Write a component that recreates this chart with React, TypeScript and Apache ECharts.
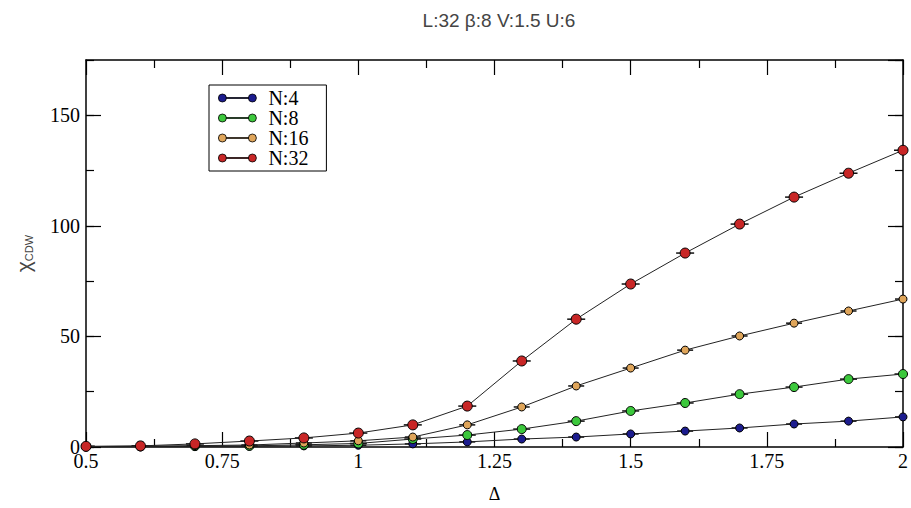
import React, { useEffect, useRef } from "react";
import * as echarts from "echarts";

// Δ values at which the susceptibility was measured
const DELTA = [0.5, 0.6, 0.7, 0.8, 0.9, 1.0, 1.1, 1.2, 1.3, 1.4, 1.5, 1.6, 1.7, 1.8, 1.9, 2.0];

// χ_CDW for each number of time slices N
const CHI_N4 = [0.1, 0.15, 0.25, 0.35, 0.5, 0.8, 1.4, 2.3, 3.6, 4.5, 5.9, 7.2, 8.6, 10.4, 11.7, 13.6];
const CHI_N8 = [0.15, 0.25, 0.4, 0.5, 1.0, 1.6, 3.6, 5.4, 8.1, 11.7, 16.3, 19.9, 23.9, 27.1, 30.7, 33.0];
const CHI_N16 = [0.2, 0.35, 0.6, 0.9, 1.8, 2.8, 4.5, 10.0, 18.1, 27.6, 35.7, 43.8, 50.2, 56.0, 61.5, 66.9];
const CHI_N32 = [0.3, 0.5, 1.4, 2.7, 4.1, 6.3, 10.0, 18.5, 38.9, 57.8, 73.7, 87.7, 100.8, 113.0, 123.8, 134.2];

const SERIES_NAMES = ["N:4", "N:8", "N:16", "N:32"];
const SERIES_VALUES = [CHI_N4, CHI_N8, CHI_N16, CHI_N32];
const SERIES_COLORS = ["#1c1c8e", "#3cc83c", "#dfa55a", "#c82626"];
const SYMBOL_SIZES = [8, 9, 8, 10];

const X_TICKS = { min: 0.5, max: 2, interval: 0.25 };
const Y_TICKS = { min: 0, max: 175, major: 50, minor: 25 };

const TITLE = "L:32 β:8 V:1.5 U:6";

const SERIF = "'Liberation Serif', 'Times New Roman', serif";
const SANS = "'Liberation Sans', Arial, sans-serif";

// legend icon: two circles joined by a thin bar
const LEGEND_ICON =
  "path://M0,4a4,4 0 1,0 8,0a4,4 0 1,0 -8,0Z M30,4a4,4 0 1,0 8,0a4,4 0 1,0 -8,0Z M8,3.6H30V4.4H8Z";

export default function App() {
  const ref = useRef<HTMLDivElement>(null);

  useEffect(() => {
    if (!ref.current) return;
    const chart = echarts.init(ref.current, undefined, { renderer: "svg" });

    const axisLine = { show: true, onZero: false, lineStyle: { color: "#000", width: 1.5 } };
    const tickStyle = { color: "#000", width: 1.2 };
    const tickFont = { fontFamily: SERIF, fontSize: 20, color: "#000" };

    const xBase = {
      type: "value" as const,
      min: X_TICKS.min,
      max: X_TICKS.max,
      interval: X_TICKS.interval,
      axisLine,
      axisTick: { show: true, inside: true, length: 15, lineStyle: tickStyle },
      minorTick: { show: true, splitNumber: 2, length: 8, lineStyle: tickStyle },
      splitLine: { show: false },
      minorSplitLine: { show: false },
    };

    const yMajor = (position: "left" | "right", labels: boolean) => ({
      type: "value" as const,
      position,
      min: Y_TICKS.min,
      max: Y_TICKS.max,
      interval: Y_TICKS.major,
      axisLine,
      axisTick: { show: true, inside: true, length: 15, lineStyle: tickStyle },
      splitLine: { show: false },
      axisLabel: labels
        ? { show: true, ...tickFont, margin: 6, showMaxLabel: false }
        : { show: false },
    });

    const yMinor = (position: "left" | "right") => ({
      type: "value" as const,
      position,
      min: Y_TICKS.min,
      max: Y_TICKS.max,
      interval: Y_TICKS.minor,
      axisLine: { show: false },
      axisTick: { show: true, inside: true, length: 8, lineStyle: tickStyle },
      splitLine: { show: false },
      axisLabel: { show: false },
    });

    const lineSeries = SERIES_NAMES.map((name, i) => ({
      name,
      type: "line" as const,
      xAxisIndex: 0,
      yAxisIndex: 0,
      data: DELTA.map((d, j) => [d, SERIES_VALUES[i][j]]),
      symbol: "circle",
      symbolSize: SYMBOL_SIZES[i],
      showSymbol: true,
      lineStyle: { color: "#222", width: 1 },
      itemStyle: { color: SERIES_COLORS[i], borderColor: "#000", borderWidth: 1 },
      emphasis: { disabled: true },
      z: 3,
    }));

    // short horizontal caps drawn through every measured point
    const capSeries = SERIES_NAMES.map((name, i) => ({
      name: name + " caps",
      type: "custom" as const,
      xAxisIndex: 0,
      yAxisIndex: 0,
      data: DELTA.map((d, j) => [d, SERIES_VALUES[i][j]]),
      encode: { x: 0, y: 1 },
      clip: true,
      z: 2,
      silent: true,
      renderItem: (_params: any, api: any) => {
        const p = api.coord([api.value(0), api.value(1)]);
        const half = SYMBOL_SIZES[i] / 2 + 4;
        return {
          type: "line",
          shape: { x1: p[0] - half, y1: p[1], x2: p[0] + half, y2: p[1] },
          style: { stroke: "#111", lineWidth: 1.5 },
        };
      },
    }));

    chart.setOption({
      animation: false,
      backgroundColor: "#fff",
      textStyle: { fontFamily: SERIF },
      title: {
        text: TITLE,
        left: 494,
        top: 6,
        textAlign: "center",
        textStyle: { fontFamily: SANS, fontSize: 19, fontWeight: "normal", color: "#444" },
      },
      legend: {
        orient: "vertical",
        left: 209,
        top: 85,
        data: SERIES_NAMES,
        icon: LEGEND_ICON,
        itemWidth: 38,
        itemHeight: 8,
        itemGap: 0,
        padding: [3, 18, 3, 9],
        borderColor: "#000",
        borderWidth: 1,
        backgroundColor: "#fff",
        selectedMode: false,
        itemStyle: { borderColor: "#000", borderWidth: 0.8 },
        textStyle: {
          fontFamily: SERIF,
          fontSize: 20,
          color: "#000",
          lineHeight: 17,
          padding: [0, 0, 0, 7],
        },
      },
      grid: { left: 86, right: 8, top: 60, bottom: 61, outerBoundsMode: "none" },
      xAxis: [
        {
          ...xBase,
          position: "bottom",
          axisLabel: { show: true, ...tickFont, margin: 4 },
          name: "Δ",
          nameLocation: "middle",
          nameGap: 38,
          nameTextStyle: { fontFamily: SERIF, fontSize: 18, color: "#000" },
        },
        { ...xBase, position: "top", axisLabel: { show: false } },
      ],
      yAxis: [
        {
          ...yMajor("left", true),
          name: "{chi|χ}{sub|CDW}",
          nameLocation: "middle",
          nameGap: 52,
          nameTextStyle: {
            color: "#444",
            rich: {
              chi: { fontFamily: SANS, fontSize: 21, color: "#444" },
              sub: { fontFamily: SANS, fontSize: 11, color: "#444", verticalAlign: "bottom", padding: [8, 0, 0, 0] },
            },
          },
        },
        yMinor("left"),
        yMajor("right", false),
        yMinor("right"),
      ],
      series: [...capSeries, ...lineSeries],
    });

    return () => chart.dispose();
  }, []);

  return (
    <div
      ref={ref}
      style={{ position: "fixed", left: 0, top: 0, width: 911, height: 508, background: "#fff" }}
    />
  );
}
